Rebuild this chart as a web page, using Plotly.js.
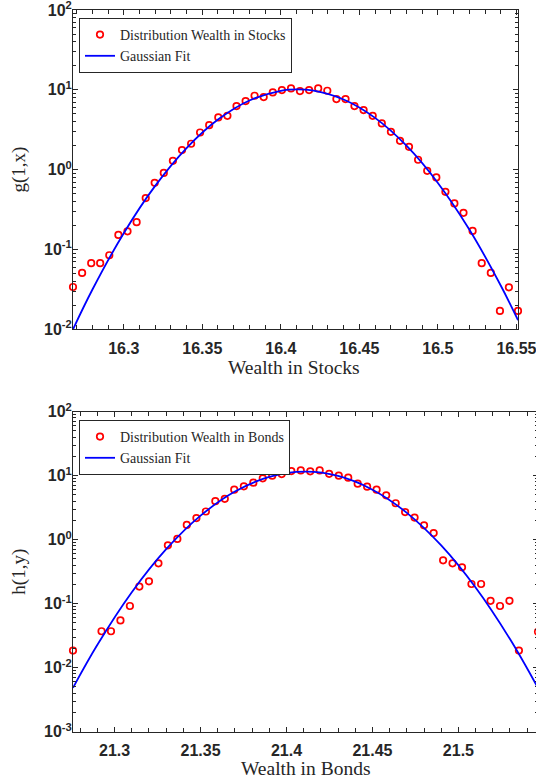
<!DOCTYPE html>
<html>
<head>
<meta charset="utf-8">
<script src="https://cdn.plot.ly/plotly-3.0.1.min.js"></script>
<style>
  html, body { margin: 0; padding: 0; overflow: hidden; background: #ffffff; }
  #chart { width: 600px; height: 779px; }
</style>
</head>
<body>
<div id="chart"></div>
<script>
// Histogram bin centres and normalised densities, wealth held in stocks
const stockX = [16.2677, 16.2735, 16.2793, 16.2850, 16.2908, 16.2966, 16.3024, 16.3082, 16.3140, 16.3197,
                16.3255, 16.3313, 16.3371, 16.3429, 16.3486, 16.3544, 16.3602, 16.3660, 16.3718, 16.3776,
                16.3833, 16.3891, 16.3949, 16.4007, 16.4065, 16.4122, 16.4180, 16.4238, 16.4296, 16.4354,
                16.4412, 16.4469, 16.4527, 16.4585, 16.4643, 16.4701, 16.4759, 16.4816, 16.4874, 16.4932,
                16.4990, 16.5048, 16.5105, 16.5163, 16.5221, 16.5279, 16.5337, 16.5395, 16.5452, 16.5510];
const stockDensity = [0.0339, 0.0508, 0.0673, 0.0673, 0.0847, 0.152, 0.169, 0.220, 0.440, 0.684,
                      0.910, 1.29, 1.76, 2.11, 2.92, 3.61, 4.51, 4.73, 6.26, 7.22,
                      8.43, 8.11, 9.29, 9.93, 10.4, 9.64, 9.93, 10.4, 9.73, 7.66,
                      7.66, 6.26, 5.57, 4.73, 3.79, 2.98, 2.30, 1.93, 1.33, 0.966,
                      0.800, 0.527, 0.377, 0.288, 0.171, 0.0673, 0.0508, 0.0170, 0.0336, 0.0170];

// Gaussian fit for stocks, sampled along the axis
const stockFitX = [16.2677, 16.28, 16.30, 16.32, 16.34, 16.36, 16.38, 16.40, 16.4107,
                   16.42, 16.44, 16.46, 16.48, 16.50, 16.52, 16.54, 16.5510];
const stockFitY = [0.0100, 0.0313, 0.160, 0.626, 1.865, 4.24, 7.36, 9.73, 10.12,
                   9.82, 7.56, 4.45, 1.993, 0.682, 0.178, 0.0354, 0.0130];

// Histogram bin centres and normalised densities, wealth held in bonds (empty bins are null)
const bondX = [21.2758, 21.2813, 21.2868, 21.2924, 21.2979, 21.3034, 21.3089, 21.3144, 21.3200, 21.3255,
               21.3310, 21.3365, 21.3420, 21.3476, 21.3531, 21.3586, 21.3641, 21.3696, 21.3752, 21.3807,
               21.3862, 21.3917, 21.3972, 21.4028, 21.4083, 21.4138, 21.4193, 21.4248, 21.4304, 21.4359,
               21.4414, 21.4469, 21.4524, 21.4580, 21.4635, 21.4690, 21.4745, 21.4800, 21.4856, 21.4911,
               21.4966, 21.5021, 21.5076, 21.5132, 21.5187, 21.5242, 21.5297, 21.5352, 21.5408, 21.5463];
const bondDensity = [0.0185, null, null, 0.0371, 0.0371, 0.0547, 0.092, 0.185, 0.224, 0.428,
                     0.817, 1.03, 1.70, 2.18, 2.76, 4.00, 4.35, 6.04, 6.82, 7.78,
                     9.10, 10.0, 10.6, 11.8, 12.1, 11.7, 12.1, 10.7, 10.0, 9.31,
                     7.50, 6.73, 6.04, 4.94, 3.71, 2.70, 2.22, 1.68, 1.27, 0.476,
                     0.428, 0.370, 0.203, 0.203, 0.111, 0.092, 0.111, 0.0185, null, 0.0365];

// Gaussian fit for bonds, sampled along the axis
const bondFitX = [21.2758, 21.29, 21.31, 21.33, 21.35, 21.37, 21.39, 21.411,
                  21.43, 21.45, 21.47, 21.49, 21.51, 21.53, 21.5463];
const bondFitY = [0.00486, 0.0228, 0.151, 0.710, 2.373, 5.651, 9.575, 11.55,
                  9.904, 6.047, 2.629, 0.813, 0.179, 0.0280, 0.00481];

// Decade tick labels
const yTickVals = [0.001, 0.01, 0.1, 1, 10, 100];
const yTickText = ['10<sup>-3</sup>', '10<sup>-2</sup>', '10<sup>-1</sup>',
                   '10<sup>0</sup>', '10<sup>1</sup>', '10<sup>2</sup>'];

const W = 600, H = 779;
const ink = '#262626';
const tickFont = { family: 'Liberation Sans, Arial, sans-serif', size: 16, weight: 'bold', color: ink };
const serif = 'Liberation Serif, Times New Roman, serif';

// log minor ticks 2..9 within every decade
const logMinor = [];
for (let e = -3; e <= 1; e++) for (let m = 2; m <= 9; m++) logMinor.push(m * Math.pow(10, e));

function xAxis(domain, range, anchor) {
  return {
    domain: domain, range: range, anchor: anchor,
    tickmode: 'linear', tick0: 0, dtick: 0.05,
    ticks: 'inside', ticklen: 5, tickwidth: 1, tickcolor: ink,
    minor: { tickmode: 'linear', tick0: 0, dtick: 0.01, ticks: 'inside', ticklen: 4, tickwidth: 1, tickcolor: ink, showgrid: false },
    showline: true, linecolor: ink, linewidth: 1, mirror: 'allticks',
    showgrid: false, zeroline: false,
    tickfont: tickFont, ticklabelstandoff: 4
  };
}
function yAxis(domain, range, title, anchor) {
  return {
    domain: domain, range: range, anchor: anchor, type: 'log',
    tickmode: 'array', tickvals: yTickVals, ticktext: yTickText,
    ticks: 'inside', ticklen: 5, tickwidth: 1, tickcolor: ink,
    minor: { tickmode: 'array', tickvals: logMinor, ticks: 'inside', ticklen: 3, tickwidth: 1, tickcolor: ink, showgrid: false },
    showline: true, linecolor: ink, linewidth: 1, mirror: 'allticks',
    showgrid: false, zeroline: false,
    tickfont: tickFont, ticklabelstandoff: -3, ticklabeloverflow: 'allow',
    title: { text: title, font: { family: serif, size: 19, color: ink } }
  };
}
function legendBox(top) {
  return {
    x: 79 / W, y: (H - top) / H, xanchor: 'left', yanchor: 'top',
    bgcolor: '#ffffff', bordercolor: ink, borderwidth: 1,
    font: { family: serif, size: 14, color: ink },
    tracegroupgap: 0, itemwidth: 30
  };
}
// x-axis titles, centred under each plot area
function xTitle(text, cx, cy) {
  return {
    text: text, xref: 'paper', yref: 'paper', x: cx / W, y: (H - cy) / H,
    xanchor: 'center', yanchor: 'middle', showarrow: false,
    font: { family: serif, size: 19.5, color: ink }
  };
}

const markerStyle = { symbol: 'circle-open', size: 6.5, color: '#ff0000', line: { width: 1.7, color: '#ff0000' } };
const fitLine = { color: '#0000ff', width: 1.8, shape: 'spline' };

const traces = [
  { x: stockX, y: stockDensity, type: 'scatter', mode: 'markers', name: 'Distribution Wealth in Stocks',
    marker: markerStyle, cliponaxis: false, xaxis: 'x', yaxis: 'y', legend: 'legend' },
  { x: stockFitX, y: stockFitY, type: 'scatter', mode: 'lines', name: 'Gaussian Fit',
    line: fitLine, xaxis: 'x', yaxis: 'y', legend: 'legend' },
  { x: bondX, y: bondDensity, type: 'scatter', mode: 'markers', name: 'Distribution Wealth in Bonds',
    marker: markerStyle, cliponaxis: false, xaxis: 'x2', yaxis: 'y2', legend: 'legend2' },
  { x: bondFitX, y: bondFitY, type: 'scatter', mode: 'lines', name: 'Gaussian Fit',
    line: fitLine, xaxis: 'x2', yaxis: 'y2', legend: 'legend2' }
];

const layout = {
  width: W, height: H,
  margin: { l: 0, r: 0, t: 0, b: 0 },
  paper_bgcolor: '#ffffff', plot_bgcolor: '#ffffff',
  showlegend: true,
  xaxis: xAxis([73 / W, 518 / W], [16.2677, 16.5510], 'y'),
  yaxis: yAxis([(H - 329.3) / H, (H - 10) / H], [-2, 2], 'g(1,x)', 'x'),
  xaxis2: xAxis([73 / W, 538 / W], [21.2758, 21.5463], 'y2'),
  yaxis2: yAxis([(H - 731.7) / H, (H - 411.7) / H], [-3, 2], 'h(1,y)', 'x2'),
  legend: legendBox(18),
  legend2: legendBox(420),
  annotations: [
    xTitle('Wealth in Stocks', 294, 367),
    xTitle('Wealth in Bonds', 306, 768.5)
  ]
};

Plotly.newPlot('chart', traces, layout, { staticPlot: true, displayModeBar: false });
</script>
</body>
</html>
